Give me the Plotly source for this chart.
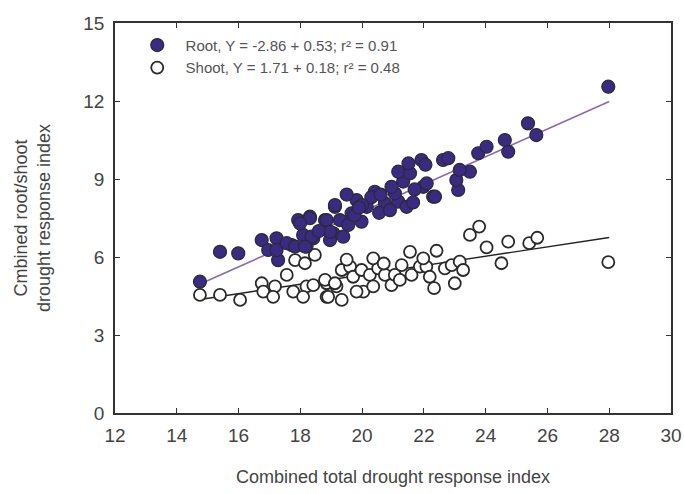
import plotly.graph_objects as go

# Root (filled) points
root_x = [14.75, 15.40, 15.99, 16.75, 17.23, 16.96, 17.28, 17.23, 17.72, 18.09,
          17.93, 18.31, 18.20, 18.42, 18.80, 19.07, 18.96, 19.12, 19.12, 19.28,
          19.98, 19.55, 18.85, 18.31, 18.96, 18.36, 17.99, 17.56, 17.83, 18.15,
          19.39, 19.66, 19.82, 20.15, 20.41, 20.74, 21.17, 21.44, 21.06, 21.33,
          21.98, 22.30, 21.17, 21.55, 21.92, 22.05, 20.55, 20.90, 20.30, 19.75,
          20.00, 20.60, 21.70, 22.09, 22.36, 23.11, 23.05, 23.49, 23.16, 22.62,
          22.79, 23.76, 24.03, 24.73, 24.62, 25.37, 25.64, 27.97, 19.50, 20.95,
          21.65, 21.50, 18.60, 19.90]
root_y = [5.05, 6.20, 6.14, 6.65, 6.72, 6.27, 5.88, 6.27, 6.46, 6.85,
          7.42, 7.55, 6.40, 6.72, 7.42, 6.91, 6.65, 7.93, 8.00, 7.42,
          7.36, 7.23, 7.42, 7.49, 6.97, 6.78, 7.29, 6.53, 6.40, 6.40,
          6.78, 7.68, 8.19, 7.93, 8.51, 8.06, 8.13, 7.93, 8.45, 8.90,
          8.70, 8.32, 9.28, 9.22, 9.73, 9.55, 7.70, 7.80, 8.30, 7.60,
          8.00, 8.40, 8.60, 8.83, 8.32, 8.58, 8.96, 9.28, 9.35, 9.73,
          9.80, 9.99, 10.24, 10.05, 10.50, 11.14, 10.69, 12.55, 8.40, 8.70,
          8.10, 9.60, 7.00, 7.90]

# Shoot (open) points
shoot_x = [14.75, 15.40, 16.05, 16.75, 16.80, 17.18, 17.12, 17.56, 17.77, 17.83,
           18.15, 18.20, 18.09, 18.47, 18.42, 18.85, 18.85, 19.17, 18.80, 18.90,
           19.12, 19.34, 19.34, 19.61, 19.71, 19.98, 20.04, 19.82, 20.25, 20.52,
           20.36, 20.36, 20.74, 20.95, 21.06, 21.22, 21.28, 21.60, 21.55, 21.87,
           22.08, 21.98, 22.19, 22.33, 22.41, 22.68, 22.90, 23.16, 23.27, 23.00,
           23.49, 23.79, 24.03, 24.51, 24.73, 25.41, 25.67, 27.97, 19.50, 20.70]
shoot_y = [4.54, 4.54, 4.35, 4.99, 4.67, 4.87, 4.47, 5.31, 4.67, 5.88,
           5.76, 4.87, 4.47, 6.08, 4.92, 4.99, 4.47, 4.87, 5.12, 4.47,
           4.99, 5.50, 4.35, 5.63, 5.24, 5.50, 4.67, 4.67, 5.31, 5.56,
           5.95, 4.87, 5.31, 4.92, 5.31, 5.12, 5.69, 5.31, 6.20, 5.63,
           5.63, 5.95, 5.24, 4.80, 6.24, 5.56, 5.69, 5.82, 5.50, 4.99,
           6.85, 7.17, 6.37, 5.76, 6.59, 6.53, 6.74, 5.80, 5.90, 5.75]

# Regression coefficients from the legend
root_a, root_b = -2.86, 0.53
shoot_a, shoot_b = 1.71, 0.18
fit_x = [14.7, 28.0]

x_ticks = [12, 14, 16, 18, 20, 22, 24, 26, 28, 30]
y_ticks = [0, 3, 6, 9, 12, 15]

font_family = "Liberation Sans, Arial, sans-serif"

fig = go.Figure()
fig.add_trace(go.Scatter(
    x=fit_x, y=[root_a + root_b * v for v in fit_x], mode="lines",
    line=dict(color="#8a6aa8", width=1.6), showlegend=False, hoverinfo="skip"))
fig.add_trace(go.Scatter(
    x=fit_x, y=[shoot_a + shoot_b * v for v in fit_x], mode="lines",
    line=dict(color="#222222", width=1.4), showlegend=False, hoverinfo="skip"))
fig.add_trace(go.Scatter(
    x=shoot_x, y=shoot_y, mode="markers",
    name="  Shoot, Y = 1.71 + 0.18; r² = 0.48",
    marker=dict(symbol="circle", size=12, color="white",
                line=dict(color="#2a2a2a", width=1.8))))
fig.add_trace(go.Scatter(
    x=root_x, y=root_y, mode="markers",
    name="  Root, Y = -2.86 + 0.53; r² = 0.91",
    marker=dict(symbol="circle", size=13, color="#3a2a80",
                line=dict(color="#2a2a3a", width=1.2))))

fig.update_layout(
    width=684, height=494,
    margin=dict(l=115, r=13, t=23, b=81),
    paper_bgcolor="white", plot_bgcolor="white",
    font=dict(family=font_family, color="#444444", size=17),
    legend=dict(x=0.04, y=0.985, xanchor="left", yanchor="top",
                traceorder="reversed", bgcolor="rgba(0,0,0,0)",
                font=dict(size=15, color="#555555"), itemwidth=30),
    xaxis=dict(range=[12, 30], tickvals=x_ticks, ticktext=[str(v) for v in x_ticks],
               showgrid=False, zeroline=False, showline=True, linecolor="#333333",
               linewidth=1.5, mirror="ticks", ticks="inside", ticklen=5,
               tickcolor="#333333", tickfont=dict(size=19, color="#444444"),
               ticklabelstandoff=4, automargin=False,
               title=dict(text="Combined total drought response index",
                          font=dict(size=18, color="#444444"), standoff=26)),
    yaxis=dict(range=[0, 15], tickvals=y_ticks, ticktext=[str(v) for v in y_ticks],
               showgrid=False, zeroline=False, showline=True, linecolor="#333333",
               linewidth=1.5, mirror="ticks", ticks="inside", ticklen=5,
               tickcolor="#333333", tickfont=dict(size=19, color="#444444"),
               ticklabelstandoff=5, automargin=False,
               title=dict(text="Cmbined root/shoot<br>drought response index",
                          font=dict(size=18, color="#444444"), standoff=28)),
)

fig.write_html("out.html")
